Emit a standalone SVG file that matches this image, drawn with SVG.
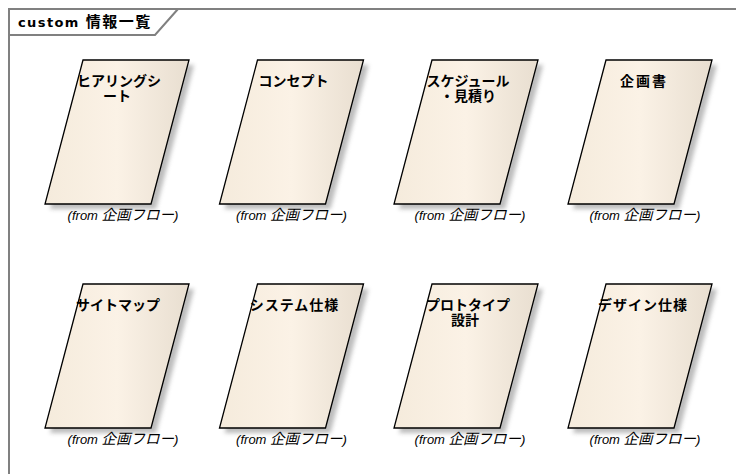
<svg xmlns="http://www.w3.org/2000/svg" xmlns:xlink="http://www.w3.org/1999/xlink" width="736" height="474" viewBox="0 0 736 474">
<style>
.frame{fill:none;stroke:#808080;stroke-width:2}
.title{font-family:"DejaVu Sans","Noto Sans CJK JP",sans-serif;font-weight:bold;font-size:13px;fill:#000}
.body{fill:url(#g);stroke:#000;stroke-width:1.3}
.shadow{fill:#a0a0a0;opacity:0.7;filter:url(#blur)}
.lbl{font-family:"Noto Sans CJK JP",sans-serif;font-weight:bold;font-size:14px;fill:#000;text-anchor:middle}
.from{font-family:"Liberation Sans","Noto Sans CJK JP",sans-serif;font-style:italic;font-size:13px;fill:#000;text-anchor:middle}
.cjk{font-size:14.5px}
</style>
<defs>
<linearGradient id="g" x1="0" y1="0" x2="1" y2="0">
<stop offset="0" stop-color="#F5EBDC"/>
<stop offset="0.5" stop-color="#FBF2E6"/>
<stop offset="1" stop-color="#E8DED0"/>
</linearGradient>
<filter id="blur" x="-20%" y="-20%" width="140%" height="140%"><feGaussianBlur stdDeviation="2"/></filter>
<polygon id="doc" points="0,0 106,0 68,144 -38,144"/>
</defs>

<g id="frame">
<path class="frame" d="M9,474 V9 H736"/>
<path class="frame" d="M9,35 H155 L178,9"/>
<text class="title" x="18" y="27" letter-spacing="1.4">custom <tspan letter-spacing="1.5" font-size="15">情報一覧</tspan></text>
</g>

<g id="connectors"></g>

<g id="n1" transform="translate(83,60)">
<use xlink:href="#doc" class="shadow" x="5" y="5"/>
<use xlink:href="#doc" class="body"/>
<text class="lbl"><tspan x="36" y="26">ヒアリングシ</tspan><tspan x="34" y="41">ート</tspan></text>
<text class="from" x="40" y="160">(from <tspan class="cjk">企画フロー</tspan>)</text>
</g>

<g id="n2" transform="translate(257.5,60)">
<use xlink:href="#doc" class="shadow" x="5" y="5"/>
<use xlink:href="#doc" class="body"/>
<text class="lbl" x="36" y="26">コンセプト</text>
<text class="from" x="34" y="160">(from <tspan class="cjk">企画フロー</tspan>)</text>
</g>

<g id="n3" transform="translate(432,60)">
<use xlink:href="#doc" class="shadow" x="5" y="5"/>
<use xlink:href="#doc" class="body"/>
<text class="lbl"><tspan x="36" y="26">スケジュール</tspan><tspan x="36" y="41">・見積り</tspan></text>
<text class="from" x="38" y="160">(from <tspan class="cjk">企画フロー</tspan>)</text>
</g>

<g id="n4" transform="translate(606,60)">
<use xlink:href="#doc" class="shadow" x="5" y="5"/>
<use xlink:href="#doc" class="body"/>
<text class="lbl" x="38" y="26" letter-spacing="2">企画書</text>
<text class="from" x="39" y="160">(from <tspan class="cjk">企画フロー</tspan>)</text>
</g>

<g id="n5" transform="translate(83,284)">
<use xlink:href="#doc" class="shadow" x="5" y="5"/>
<use xlink:href="#doc" class="body"/>
<text class="lbl" x="35" y="26">サイトマップ</text>
<text class="from" x="40" y="160">(from <tspan class="cjk">企画フロー</tspan>)</text>
</g>

<g id="n6" transform="translate(257.5,284)">
<use xlink:href="#doc" class="shadow" x="5" y="5"/>
<use xlink:href="#doc" class="body"/>
<text class="lbl" x="37" y="26" letter-spacing="1">システム仕様</text>
<text class="from" x="34" y="160">(from <tspan class="cjk">企画フロー</tspan>)</text>
</g>

<g id="n7" transform="translate(432,284)">
<use xlink:href="#doc" class="shadow" x="5" y="5"/>
<use xlink:href="#doc" class="body"/>
<text class="lbl"><tspan x="36" y="26">プロトタイプ</tspan><tspan x="33" y="41">設計</tspan></text>
<text class="from" x="38" y="160">(from <tspan class="cjk">企画フロー</tspan>)</text>
</g>

<g id="n8" transform="translate(606,284)">
<use xlink:href="#doc" class="shadow" x="5" y="5"/>
<use xlink:href="#doc" class="body"/>
<text class="lbl" x="37" y="26" letter-spacing="1">デザイン仕様</text>
<text class="from" x="39" y="160">(from <tspan class="cjk">企画フロー</tspan>)</text>
</g>
</svg>
